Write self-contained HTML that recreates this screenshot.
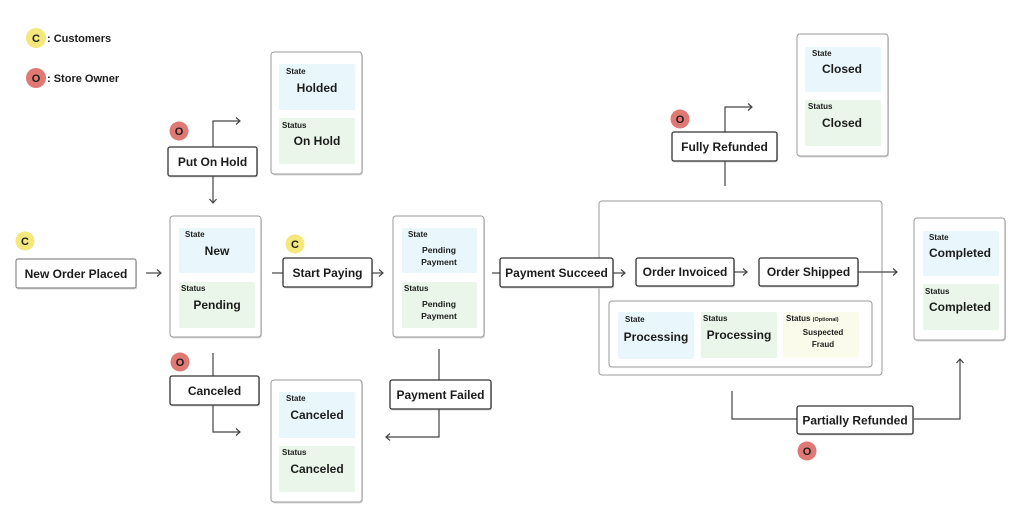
<!DOCTYPE html>
<html><head><meta charset="utf-8"><style>
html,body{margin:0;padding:0;background:#fff;}
svg{display:block;font-family:"Liberation Sans",Arial,sans-serif;font-weight:bold;}
.tb{fill:#fff;stroke:#333;stroke-width:1.3;}
.sb{fill:#fff;stroke:#9a9a9a;stroke-width:1;}
.sh{fill:#d8d8d8;}
.bl{fill:#e9f7fc;}
.gr{fill:#e9f6e9;}
.ye{fill:#fafbea;}
.ln{fill:none;stroke:#444;stroke-width:1.2;}
.t{fill:#1c1c1c;font-size:12px;text-anchor:middle;}
.v{fill:#1c1c1c;font-size:12px;text-anchor:middle;}
.s{fill:#1c1c1c;font-size:8px;}
.p{fill:#1c1c1c;font-size:8.6px;text-anchor:middle;}
.c{fill:#1c1c1c;font-size:11px;text-anchor:middle;}
</style></head><body>
<svg width="1024" height="513" viewBox="0 0 1024 513" xmlns="http://www.w3.org/2000/svg">
<!-- Legend -->
<circle cx="36" cy="38" r="10" fill="#f4e77c"/>
<text class="c" x="36" y="42">C</text>
<text x="47" y="42" style="font-size:11px;fill:#1c1c1c">: Customers</text>
<circle cx="36" cy="78" r="10" fill="#e07873"/>
<text class="c" x="36" y="82">O</text>
<text x="47" y="82" style="font-size:11px;fill:#1c1c1c">: Store Owner</text>

<!-- Holded state box -->
<rect class="sh" x="272" y="53.5" width="91" height="122" rx="3"/>
<rect class="sb" x="271" y="52" width="91" height="122" rx="3"/>
<rect class="bl" x="279" y="64" width="76" height="46" rx="2"/>
<rect class="gr" x="279" y="118" width="76" height="46" rx="2"/>
<text class="s" x="286" y="74">State</text>
<text class="v" x="317" y="92">Holded</text>
<text class="s" x="282" y="128">Status</text>
<text class="v" x="317" y="145">On Hold</text>

<!-- Put On Hold -->
<circle cx="179" cy="131" r="9.5" fill="#e07873"/>
<text class="c" x="179" y="135">O</text>
<polyline class="ln" points="213,147 213,121 240,121"/>
<polyline class="ln" points="236,117.5 240,121 236,124.5"/>
<rect class="sh" x="169" y="148.5" width="89" height="29" rx="2"/>
<rect class="tb" x="168" y="147" width="89" height="29" rx="2"/>
<text class="t" x="212.5" y="166">Put On Hold</text>
<polyline class="ln" points="213,176 213,203"/>
<polyline class="ln" points="209.5,199 213,203 216.5,199"/>

<!-- New Order Placed -->
<circle cx="25" cy="241" r="9.5" fill="#f4e77c"/>
<text class="c" x="25" y="245">C</text>
<rect class="sh" x="17" y="260.5" width="120" height="29" rx="2"/>
<rect x="16" y="259" width="120" height="29" rx="2" fill="#fff" stroke="#8a8a8a" stroke-width="1.2"/>
<text class="t" x="76" y="278">New Order Placed</text>
<polyline class="ln" points="146,273 161,273"/>
<polyline class="ln" points="157,269.5 161,273 157,276.5"/>

<!-- New / Pending -->
<rect class="sh" x="171" y="217.5" width="91" height="121" rx="3"/>
<rect class="sb" x="170" y="216" width="91" height="121" rx="3"/>
<rect class="bl" x="179" y="228" width="76" height="45" rx="2"/>
<rect class="gr" x="179" y="282" width="76" height="46" rx="2"/>
<text class="s" x="185" y="237">State</text>
<text class="v" x="217" y="255">New</text>
<text class="s" x="181" y="291">Status</text>
<text class="v" x="217" y="309">Pending</text>

<!-- Start Paying -->
<polyline class="ln" points="272,273 283,273"/>
<circle cx="295" cy="244" r="9.5" fill="#f4e77c"/>
<text class="c" x="295" y="248">C</text>
<rect class="sh" x="284" y="259.5" width="89" height="29" rx="2"/>
<rect class="tb" x="283" y="258" width="89" height="29" rx="2"/>
<text class="t" x="327.5" y="277">Start Paying</text>
<polyline class="ln" points="372,273 383,273"/>
<polyline class="ln" points="379,269.5 383,273 379,276.5"/>

<!-- Pending Payment -->
<rect class="sh" x="394" y="217.5" width="91" height="121" rx="3"/>
<rect class="sb" x="393" y="216" width="91" height="121" rx="3"/>
<rect class="bl" x="402" y="228" width="75" height="45" rx="2"/>
<rect class="gr" x="402" y="282" width="75" height="46" rx="2"/>
<text class="s" x="408" y="237">State</text>
<text class="p" x="439" y="253">Pending</text>
<text class="p" x="439" y="265">Payment</text>
<text class="s" x="404" y="291">Status</text>
<text class="p" x="439" y="307">Pending</text>
<text class="p" x="439" y="319">Payment</text>

<!-- Processing container -->
<rect class="sb" x="599" y="201" width="283" height="174" rx="3"/>
<rect class="sb" x="609" y="301" width="263" height="66" rx="3"/>
<rect class="bl" x="618" y="312" width="76" height="47" rx="2"/>
<rect class="gr" x="701" y="312" width="76" height="46" rx="2"/>
<rect class="ye" x="783" y="312" width="76" height="46" rx="2"/>
<text class="s" x="625" y="322">State</text>
<text class="v" x="656" y="341">Processing</text>
<text class="s" x="703" y="321">Status</text>
<text class="v" x="739" y="339">Processing</text>
<text class="s" x="786" y="321">Status <tspan style="font-size:5.5px">(Optional)</tspan></text>
<text class="p" x="823" y="335" style="font-size:8px">Suspected</text>
<text class="p" x="823" y="347" style="font-size:8px">Fraud</text>

<!-- Payment Succeed -->
<polyline class="ln" points="492,273 500,273"/>
<rect class="sh" x="501" y="259.5" width="113" height="29" rx="2"/>
<rect class="tb" x="500" y="258" width="113" height="29" rx="2"/>
<text class="t" x="556.5" y="277">Payment Succeed</text>
<polyline class="ln" points="613,273 625,273"/>
<polyline class="ln" points="621,269.5 625,273 621,276.5"/>

<!-- Order Invoiced -->
<rect class="sh" x="637" y="259.5" width="98" height="28" rx="2"/>
<rect class="tb" x="636" y="258" width="98" height="28" rx="2"/>
<text class="t" x="685" y="276">Order Invoiced</text>
<polyline class="ln" points="734,272 747,272"/>
<polyline class="ln" points="743,268.5 747,272 743,275.5"/>

<!-- Order Shipped -->
<rect class="sh" x="760" y="259.5" width="99" height="28" rx="2"/>
<rect class="tb" x="759" y="258" width="99" height="28" rx="2"/>
<text class="t" x="808.5" y="276">Order Shipped</text>
<polyline class="ln" points="858,272 897,272"/>
<polyline class="ln" points="893,268.5 897,272 893,275.5"/>

<!-- Completed -->
<rect class="sh" x="915" y="219.5" width="91" height="122" rx="3"/>
<rect class="sb" x="914" y="218" width="91" height="122" rx="3"/>
<rect class="bl" x="923" y="231" width="76" height="45" rx="2"/>
<rect class="gr" x="923" y="284" width="76" height="46" rx="2"/>
<text class="s" x="929" y="240">State</text>
<text class="v" x="960" y="257">Completed</text>
<text class="s" x="925" y="294">Status</text>
<text class="v" x="960" y="311">Completed</text>

<!-- Fully Refunded -->
<circle cx="680" cy="119" r="9.5" fill="#e07873"/>
<text class="c" x="680" y="123">O</text>
<polyline class="ln" points="725,132 725,107 752,107"/>
<polyline class="ln" points="748,103.5 752,107 748,110.5"/>
<rect class="sh" x="673" y="133.5" width="105" height="29" rx="2"/>
<rect class="tb" x="672" y="132" width="105" height="29" rx="2"/>
<text class="t" x="724.5" y="151">Fully Refunded</text>
<polyline class="ln" points="725,161 725,186"/>

<!-- Closed -->
<rect class="sh" x="798" y="35.5" width="91" height="122" rx="3"/>
<rect class="sb" x="797" y="34" width="91" height="122" rx="3"/>
<rect class="bl" x="805" y="47" width="76" height="45" rx="2"/>
<rect class="gr" x="805" y="100" width="76" height="46" rx="2"/>
<text class="s" x="812" y="56">State</text>
<text class="v" x="842" y="73">Closed</text>
<text class="s" x="808" y="109">Status</text>
<text class="v" x="842" y="127">Closed</text>

<!-- Partially Refunded -->
<polyline class="ln" points="732,391 732,419 797,419"/>
<polyline class="ln" points="913,419 960,419 960,359"/>
<polyline class="ln" points="956.5,363 960,359 963.5,363"/>
<rect class="sh" x="798" y="407.5" width="116" height="28" rx="2"/>
<rect class="tb" x="797" y="406" width="116" height="28" rx="2"/>
<text class="t" x="855" y="424.5">Partially Refunded</text>
<circle cx="807" cy="451" r="9.5" fill="#e07873"/>
<text class="c" x="807" y="455">O</text>

<!-- Canceled transition -->
<circle cx="180" cy="362" r="9.5" fill="#e07873"/>
<text class="c" x="180" y="366">O</text>
<polyline class="ln" points="213,353 213,376"/>
<rect class="sh" x="171" y="377.5" width="89" height="29" rx="2"/>
<rect class="tb" x="170" y="376" width="89" height="29" rx="2"/>
<text class="t" x="214.5" y="395">Canceled</text>
<polyline class="ln" points="213,405 213,432 240,432"/>
<polyline class="ln" points="236,428.5 240,432 236,435.5"/>

<!-- Canceled state -->
<rect class="sh" x="272" y="381.5" width="91" height="122" rx="3"/>
<rect class="sb" x="271" y="380" width="91" height="122" rx="3"/>
<rect class="bl" x="279" y="392" width="76" height="46" rx="2"/>
<rect class="gr" x="279" y="446" width="76" height="46" rx="2"/>
<text class="s" x="286" y="401">State</text>
<text class="v" x="317" y="419">Canceled</text>
<text class="s" x="282" y="455">Status</text>
<text class="v" x="317" y="473">Canceled</text>

<!-- Payment Failed -->
<polyline class="ln" points="439,349 439,380"/>
<rect class="sh" x="391" y="381.5" width="101" height="29" rx="2"/>
<rect class="tb" x="390" y="380" width="101" height="29" rx="2"/>
<text class="t" x="440.5" y="399">Payment Failed</text>
<polyline class="ln" points="439,409 439,437 386,437"/>
<polyline class="ln" points="390,433.5 386,437 390,440.5"/>
</svg>
</body></html>
